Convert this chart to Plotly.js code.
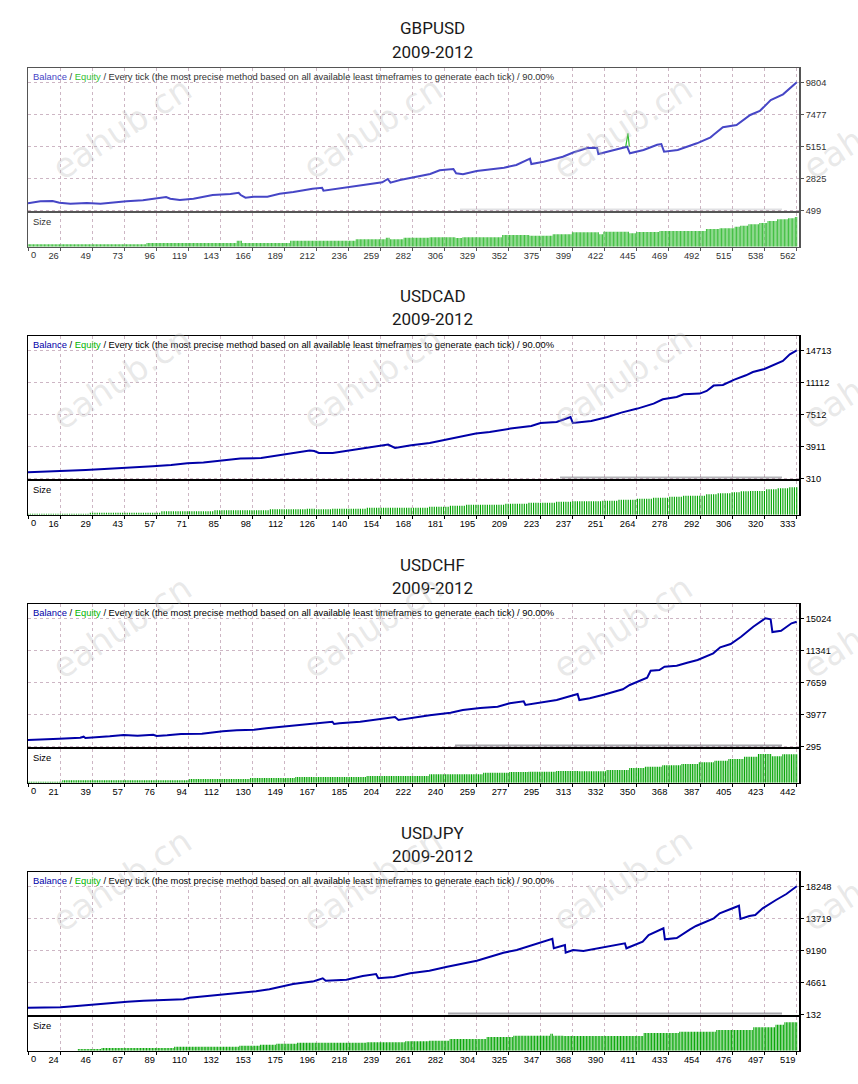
<!DOCTYPE html>
<html><head><meta charset="utf-8">
<script src="https://cdn.plot.ly/plotly-3.0.1.min.js"></script>
<style>html,body{margin:0;padding:0;background:#fff}#chart{width:858px;height:1084px}</style>
</head><body><div id="chart"></div>
<script>
// ---------------- data ----------------
const pairNames = ['GBPUSD', 'USDCAD', 'USDCHF', 'USDJPY'];
const periodLabel = '2009-2012';
const headerBalance = 'Balance';
const headerEquity = 'Equity';
const headerRest = 'Every tick (the most precise method based on all available least timeframes to generate each tick) / 90.00%';
const sizeLabel = 'Size';
const watermarkText = 'eahub.cn';

// GBPUSD
const gbpTrades = 562;
const gbpTradeNo = [0,9,18,23,31,43,53,62,72,84,94,101,104,111,121,135,148,154,155.5,159,165,175,184,194,208,215,216,223,235,248,259,263,265,272,284,294,301,311,313,318,328,340,348,357,367,368,377,391,399,409,416,417,426,438,440,450,460,463,465,475,489,499,501,508,518,528,535,543,552,562];
const gbpBalance = [1007,1153,1174,1051,978,1029,978,1080,1153,1225,1342,1465,1342,1247,1342,1611,1683,1778,1611,1414,1487,1487,1705,1829,2069,2141,1923,2025,2214,2410,2534,2774,2505,2701,2941,3137,3406,3501,3188,3116,3356,3523,3595,3792,4250,3864,4032,4395,4715,5028,5049,4591,4831,5122,4642,4882,5268,5318,4759,4882,5369,5805,5973,6532,6700,7427,7718,8517,8932,9804];
const gbpEqTradeNo = [437, 438.6, 439.6];
const gbpEquity = [5122, 6096, 5150];
const gbpSizeFrom = [0,87,153,157,192,240,262,265,275,294,313,318,347,367,384,398,418,421,440,445,462,496,506,517,521,527,535,541,548,556,561];
const gbpSizeLots = [0.07,0.11,0.18,0.11,0.18,0.22,0.27,0.22,0.27,0.28,0.26,0.28,0.35,0.33,0.37,0.43,0.37,0.45,0.40,0.44,0.47,0.53,0.55,0.60,0.63,0.67,0.71,0.77,0.82,0.85,0.89];
const gbpXLabels = ['0','26','49','73','96','119','143','166','189','212','236','259','282','306','329','352','375','399','422','445','469','492','515','538','562'];
const gbpYTicks = [9804, 7477, 5151, 2825, 499];

// USDCAD
const cadTrades = 333;
const cadTradeNo = [0,8,17,25,33,40,47,54,62,69,76,83,92,101,108,115,122,124,126,132,140,147,156,159,166,174,181,189,194,200,209,218,222,229,235,236,244,251,257,264,271,275,281,284,291,294,297,301,306,311,314,319,323,327,330,333];
const cadBalance = [1000,1067,1134,1247,1359,1438,1550,1663,1809,2000,2079,2304,2529,2597,2900,3125,3429,3384,3159,3159,3463,3767,4104,3722,4025,4284,4667,5072,5342,5522,5904,6197,6534,6647,7209,6534,6759,7209,7704,8154,8717,9200,9459,9763,9842,10134,10742,10809,11417,11900,12272,12609,13104,13509,14263,14713];
const cadSizeFrom = [0,27,58,81,105,121,125,132,147,174,183,190,207,217,229,236,249,256,264,271,278,284,294,299,305,309,313,320,325,330];
const cadSizeLots = [0.03,0.06,0.10,0.13,0.16,0.18,0.16,0.18,0.21,0.24,0.27,0.30,0.33,0.36,0.39,0.40,0.42,0.45,0.48,0.51,0.54,0.57,0.61,0.64,0.67,0.70,0.71,0.76,0.79,0.82];
const cadXLabels = ['0','16','29','43','57','71','85','98','112','126','140','154','168','181','195','209','223','237','251','264','278','292','306','320','333'];
const cadYTicks = [14713, 11112, 7512, 3911, 310];

// USDCHF
const chfTrades = 442;
const chfTradeNo = [0,9,18,30,32,33,40,47,55,63,72,74,80,88,100,107,112,120,130,137,147,156,166,175,176,179,191,202,211,213,222,231,243,250,260,270,277,285,286,294,304,312,316,317,323,331,342,346,356,358,363,366,373,379,385,394,398,404,410,417,424,427,428,433,439,442];
const chfBalance = [1020,1135,1170,1285,1400,1250,1331,1446,1595,1515,1630,1480,1561,1711,1745,1941,2021,2136,2205,2366,2550,2746,2976,3126,2861,2942,3126,3402,3667,3321,3632,3862,4161,4472,4702,4852,5243,5473,5047,5312,5623,6083,6313,5623,5818,6233,6854,7349,8189,8994,9075,9455,9570,9915,10226,10997,11687,12067,12907,14057,15024,14909,13448,13597,14449,14633];
const chfSizeFrom = [0,20,93,128,154,195,231,262,277,288,304,317,333,346,355,365,376,386,395,403,412,420,428,434];
const chfSizeLots = [0.03,0.07,0.11,0.14,0.17,0.20,0.25,0.30,0.32,0.33,0.35,0.34,0.38,0.44,0.48,0.52,0.56,0.61,0.66,0.71,0.78,0.86,0.79,0.85];
const chfXLabels = ['0','21','39','57','76','94','112','130','149','167','185','204','222','240','259','277','295','313','332','350','368','387','405','423','442'];
const chfYTicks = [15024, 11341, 7659, 3977, 295];

// USDJPY
const jpyTrades = 519;
const jpyTradeNo = [0,22,33,42,55,67,78,91,105,109,123,136,145,154,163,172,179,193,199,201,215,226,235,236.5,247,258,271,283,294,303,312,321,330,337,343,350,354,355,360,362.5,363,368,375,388,397,403,404,411,415,419,427,429,430,438,447,451,463,467,474,480,481,487,491,496,505,512,519];
const jpyBalance = [1066,1123,1307,1491,1731,1915,2057,2156,2255,2482,2765,2963,3189,3387,3670,4038,4421,4803,5227,4888,5029,5553,5836,5227,5411,5935,6303,6869,7350,7718,8284,8850,9233,9700,10082,10506,10832,9473,9799,9940,8850,9233,9091,9615,10039,10181,9473,10039,10407,11355,12162,12304,10747,10931,12162,12629,13719,14427,14993,15502,13620,14045,14186,15134,16309,17158,18248];
const jpySizeFrom = [0,34,50,99,143,157,168,182,229,255,271,285,310,328,353,355,362,416,440,465,490,505,511];
const jpySizeLots = [0,0.05,0.08,0.12,0.15,0.18,0.21,0.24,0.25,0.28,0.30,0.35,0.41,0.45,0.51,0.45,0.44,0.53,0.57,0.62,0.70,0.78,0.85];
const jpyXLabels = ['0','24','46','67','89','110','132','153','175','196','218','239','261','282','304','325','347','368','390','411','433','454','476','497','519'];
const jpyYTicks = [18248, 13719, 9190, 4661, 132];

// ---------------- build ----------------
const W = 858, H = 1084;
const fx = v => v / W;
const fy = v => 1 - v / H;

const panels = [
  {name: pairNames[0], trades: gbpTrades, tradeNo: gbpTradeNo, bal: gbpBalance, eqNo: gbpEqTradeNo, eq: gbpEquity,
   sizeFrom: gbpSizeFrom, sizeLots: gbpSizeLots, xLabels: gbpXLabels, yTicks: gbpYTicks,
   line: '#4646C6', bar: '#44C044', border: '#555555', text: '#333333', balTxt: '#4646C6', eqTxt: '#33C033', barW: 0.78,
   smudge: [460, 'rgba(120,120,130,0.22)']},
  {name: pairNames[1], trades: cadTrades, tradeNo: cadTradeNo, bal: cadBalance,
   sizeFrom: cadSizeFrom, sizeLots: cadSizeLots, xLabels: cadXLabels, yTicks: cadYTicks,
   line: '#0000A8', bar: '#00A400', border: '#000000', text: '#000000', balTxt: '#0000A8', eqTxt: '#00B400', barW: 0.5,
   smudge: [560, 'rgba(70,70,80,0.4)']},
  {name: pairNames[2], trades: chfTrades, tradeNo: chfTradeNo, bal: chfBalance,
   sizeFrom: chfSizeFrom, sizeLots: chfSizeLots, xLabels: chfXLabels, yTicks: chfYTicks,
   line: '#0000A8', bar: '#00A400', border: '#000000', text: '#000000', balTxt: '#0000A8', eqTxt: '#00B400', barW: 0.6,
   smudge: [455, 'rgba(60,60,70,0.45)']},
  {name: pairNames[3], trades: jpyTrades, tradeNo: jpyTradeNo, bal: jpyBalance,
   sizeFrom: jpySizeFrom, sizeLots: jpySizeLots, xLabels: jpyXLabels, yTicks: jpyYTicks,
   line: '#0000A8', bar: '#00A400', border: '#000000', text: '#000000', balTxt: '#0000A8', eqTxt: '#00B400', barW: 0.65,
   smudge: [448, 'rgba(60,60,70,0.45)']}
];

function sizeAt(from, lots, n) {
  let j = 0;
  while (j + 1 < from.length && from[j + 1] <= n) j++;
  return lots[j];
}

const gridCol = '#CDB6C4';
const tickFont = {family: 'Liberation Sans, Arial, sans-serif', size: 9.3};
const headFont = {family: 'Liberation Sans, Arial, sans-serif', size: 9.4};
const traces = [];
const layout = {
  width: W, height: H, margin: {l: 0, r: 0, t: 0, b: 0},
  paper_bgcolor: '#ffffff', plot_bgcolor: '#ffffff', showlegend: false,
  annotations: [], shapes: []
};
const axId = (c, i) => i === 1 ? c : c + i;
const axKey = (c, i) => i === 1 ? c + 'axis' : c + 'axis' + i;

panels.forEach((p, k) => {
  const o = 268 * k;
  const T = 68.3 + o, B = 211.3 + o, ST = 213.3 + o, SB = 246.7 + o;
  const step = p.trades / 24;
  const xr = [0, step * 24.08];
  const tickvals = p.xLabels.map((_, i) => i * step);
  // first label sits inside the box edge (drawn as annotation below)
  const ticktext = p.xLabels.map((t, i) => i === 0 ? '' : t);
  const top = p.yTicks[0], bot = p.yTicks[p.yTicks.length - 1];
  const per = (top - bot) / 128;
  const yr = [bot - per * 1, top + per * 14];
  const im = 2 * k + 1, is = 2 * k + 2;

  // balance line
  traces.push({type: 'scatter', mode: 'lines', x: p.tradeNo, y: p.bal,
    xaxis: axId('x', im), yaxis: axId('y', im), line: {color: p.line, width: 2}, hoverinfo: 'skip'});
  if (p.eq) {
    traces.push({type: 'scatter', mode: 'lines', x: p.eqNo, y: p.eq,
      xaxis: axId('x', im), yaxis: axId('y', im), line: {color: '#33C033', width: 1.2}, hoverinfo: 'skip'});
  }
  // size bars
  const bx = [], by = [];
  for (let n = 0; n <= p.trades; n++) { bx.push(n); by.push(sizeAt(p.sizeFrom, p.sizeLots, n)); }
  traces.push({type: 'bar', x: bx, y: by, width: p.barW, xaxis: axId('x', is), yaxis: axId('y', is),
    marker: {color: p.bar, line: {width: 0}}, hoverinfo: 'skip'});

  const common = {showline: true, mirror: true, linecolor: p.border, linewidth: 1.5, zeroline: false, fixedrange: true};
  layout[axKey('x', im)] = Object.assign({}, common, {
    domain: [fx(28), fx(799.3)], range: xr, anchor: axId('y', im),
    tickmode: 'array', tickvals: tickvals, showticklabels: false, ticks: '',
    showgrid: true, gridcolor: gridCol, griddash: '3px,3px', gridwidth: 1});
  layout[axKey('y', im)] = Object.assign({}, common, {
    domain: [fy(B), fy(T)], range: yr, anchor: axId('x', im), side: 'right',
    tickmode: 'array', tickvals: p.yTicks, ticktext: p.yTicks.map(String),
    ticks: 'outside', ticklen: 3, tickcolor: p.border, tickfont: Object.assign({color: p.text}, tickFont),
    showgrid: true, gridcolor: gridCol, griddash: '3px,3px', gridwidth: 1});
  layout[axKey('x', is)] = Object.assign({}, common, {
    domain: [fx(28), fx(799.3)], range: xr, anchor: axId('y', is),
    tickmode: 'array', tickvals: tickvals, ticktext: ticktext, ticklabelposition: 'outside left',
    ticks: 'outside', ticklen: 3, tickcolor: p.border, tickfont: Object.assign({color: p.text}, tickFont),
    showgrid: true, gridcolor: gridCol, griddash: '3px,3px', gridwidth: 1});
  layout[axKey('y', is)] = Object.assign({}, common, {
    domain: [fy(SB), fy(ST)], range: [0, 1], anchor: axId('x', is),
    showticklabels: false, ticks: '', showgrid: false});

  // first x label, left-aligned at the box edge
  layout.annotations.push({xref: axId('x', is), yref: 'paper', x: tickvals[0], y: fy(255.3 + o), xanchor: 'left', yanchor: 'middle',
    xshift: 1, text: p.xLabels[0], showarrow: false, font: Object.assign({color: p.text}, tickFont)});
  // titles
  layout.annotations.push({xref: 'paper', yref: 'paper', x: fx(433), y: fy(28.5 + o), xanchor: 'center', yanchor: 'middle',
    text: p.name, showarrow: false, font: {family: 'Roboto, sans-serif', size: 17, color: '#1a1a1a'}});
  layout.annotations.push({xref: 'paper', yref: 'paper', x: fx(433), y: fy(51.5 + o), xanchor: 'center', yanchor: 'middle',
    text: periodLabel, showarrow: false, font: {family: 'Roboto, sans-serif', size: 17, color: '#1a1a1a'}});
  // header inside box
  layout.annotations.push({xref: 'paper', yref: 'paper', x: fx(31), y: fy(76.5 + o), xanchor: 'left', yanchor: 'middle',
    text: '<span style="color:' + p.balTxt + '">' + headerBalance + '</span> / <span style="color:' + p.eqTxt + '">' + headerEquity + '</span> / ' + headerRest,
    showarrow: false, font: Object.assign({}, headFont, {color: p.text})});
  layout.annotations.push({xref: 'paper', yref: 'paper', x: fx(31), y: fy(221.5 + o), xanchor: 'left', yanchor: 'middle',
    text: sizeLabel, showarrow: false, font: Object.assign({}, headFont, {color: p.text})});

  // erased area (faded grid) and smudge at bottom of main box
  layout.shapes.push({type: 'rect', xref: 'paper', yref: 'paper', layer: 'between',
    x0: fx(448), x1: fx(792), y0: fy(B - 3), y1: fy(T + 100), fillcolor: 'rgba(255,255,255,0.78)', line: {width: 0}});
  layout.shapes.push({type: 'line', xref: 'paper', yref: 'paper', layer: 'above',
    x0: fx(p.smudge[0]), x1: fx(782), y0: fy(B - 1.8), y1: fy(B - 1.8),
    line: {color: p.smudge[1], width: 1.8}});
});

// watermarks
const wmX = [122, 372, 622, 872];
const wmY = [128, 378, 627, 880];
wmY.forEach(yy => wmX.forEach(xx => {
  layout.annotations.push({xref: 'paper', yref: 'paper', x: fx(xx), y: fy(yy), xanchor: 'center', yanchor: 'middle',
    text: watermarkText, textangle: -33, showarrow: false,
    font: {family: 'DejaVu Sans, sans-serif', size: 34, color: 'rgba(185,185,185,0.32)'}});
}));

Plotly.newPlot('chart', traces, layout, {staticPlot: true, displayModeBar: false});
</script>
</body></html>
